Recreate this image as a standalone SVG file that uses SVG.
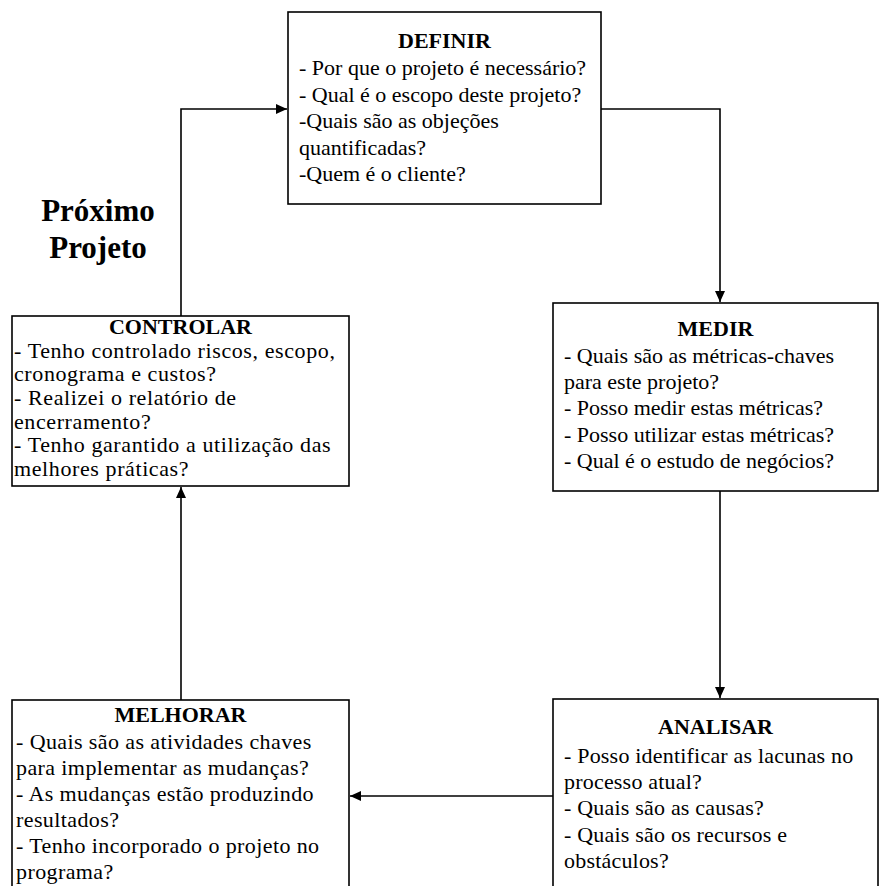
<svg xmlns="http://www.w3.org/2000/svg" width="880" height="886" viewBox="0 0 880 886">
<style>
.box{fill:#fff;stroke:#000;stroke-width:1.6}
.c{fill:none;stroke:#000;stroke-width:1.6}
</style>
<defs>
<marker id="ah" markerUnits="userSpaceOnUse" markerWidth="12" markerHeight="10" refX="11" refY="5" orient="auto">
<path d="M0,0 L11,5 L0,10 z" fill="#000"/>
</marker>
</defs>
<rect width="880" height="886" fill="#fff"/>
<g id="connectors">
<path class="c" d="M181,316 V109 H287" marker-end="url(#ah)"/>
<path class="c" d="M601,109 H720 V302" marker-end="url(#ah)"/>
<path class="c" d="M720,491 V698" marker-end="url(#ah)"/>
<path class="c" d="M553,796 H350" marker-end="url(#ah)"/>
<path class="c" d="M181,700 V487" marker-end="url(#ah)"/>
</g>
<g id="label-proximo">
<text x="98" y="221" font-family="Liberation Serif" font-size="31" font-weight="bold" text-anchor="middle">Próximo</text>
<text x="98" y="258" font-family="Liberation Serif" font-size="31" font-weight="bold" text-anchor="middle">Projeto</text>
</g>
<g id="definir">
<rect class="box" x="288" y="12" width="313" height="192"/>
<text x="444.5" y="48" font-family="Liberation Serif" font-size="22" font-weight="bold" text-anchor="middle">DEFINIR</text>
<text x="299" y="75" font-family="Liberation Serif" font-size="22">- Por que o projeto é necessário?</text>
<text x="299" y="101.5" font-family="Liberation Serif" font-size="22">- Qual é o escopo deste projeto?</text>
<text x="299" y="128" font-family="Liberation Serif" font-size="22">-Quais são as objeções</text>
<text x="299" y="154.5" font-family="Liberation Serif" font-size="22">quantificadas?</text>
<text x="299" y="181" font-family="Liberation Serif" font-size="22">-Quem é o cliente?</text>
</g>
<g id="medir">
<rect class="box" x="553" y="303" width="325" height="188"/>
<text x="715.5" y="336" font-family="Liberation Serif" font-size="22" font-weight="bold" text-anchor="middle">MEDIR</text>
<text x="564" y="363" font-family="Liberation Serif" font-size="22">- Quais são as métricas-chaves</text>
<text x="564" y="389" font-family="Liberation Serif" font-size="22">para este projeto?</text>
<text x="564" y="415" font-family="Liberation Serif" font-size="22">- Posso medir estas métricas?</text>
<text x="564" y="441.5" font-family="Liberation Serif" font-size="22">- Posso utilizar estas métricas?</text>
<text x="564" y="468" font-family="Liberation Serif" font-size="22">- Qual é o estudo de negócios?</text>
</g>
<g id="analisar">
<rect class="box" x="553" y="699" width="325" height="200"/>
<text x="715.5" y="734" font-family="Liberation Serif" font-size="22" font-weight="bold" text-anchor="middle">ANALISAR</text>
<text x="564" y="763" font-family="Liberation Serif" font-size="22" letter-spacing="0.2">- Posso identificar as lacunas no</text>
<text x="564" y="789" font-family="Liberation Serif" font-size="22" letter-spacing="0.2">processo atual?</text>
<text x="564" y="815" font-family="Liberation Serif" font-size="22" letter-spacing="0.2">- Quais são as causas?</text>
<text x="564" y="842" font-family="Liberation Serif" font-size="22" letter-spacing="0.2">- Quais são os recursos e</text>
<text x="564" y="868" font-family="Liberation Serif" font-size="22" letter-spacing="0.2">obstáculos?</text>
</g>
<g id="melhorar">
<rect class="box" x="12" y="700" width="337" height="200"/>
<text x="180.5" y="722" font-family="Liberation Serif" font-size="22" font-weight="bold" text-anchor="middle">MELHORAR</text>
<text x="16" y="749" font-family="Liberation Serif" font-size="22" letter-spacing="0.4">- Quais são as atividades chaves</text>
<text x="16" y="775" font-family="Liberation Serif" font-size="22" letter-spacing="0.4">para implementar as mudanças?</text>
<text x="16" y="801" font-family="Liberation Serif" font-size="22" letter-spacing="0.4">- As mudanças estão produzindo</text>
<text x="16" y="827" font-family="Liberation Serif" font-size="22" letter-spacing="0.4">resultados?</text>
<text x="16" y="853" font-family="Liberation Serif" font-size="22" letter-spacing="0.4">- Tenho incorporado o projeto no</text>
<text x="16" y="879" font-family="Liberation Serif" font-size="22" letter-spacing="0.4">programa?</text>
</g>
<g id="controlar">
<rect class="box" x="12" y="316" width="337" height="170"/>
<text x="180.5" y="334" font-family="Liberation Serif" font-size="22" font-weight="bold" text-anchor="middle">CONTROLAR</text>
<text x="14" y="357.5" font-family="Liberation Serif" font-size="22" letter-spacing="0.6">- Tenho controlado riscos, escopo,</text>
<text x="14" y="381" font-family="Liberation Serif" font-size="22" letter-spacing="0.6">cronograma e custos?</text>
<text x="14" y="405" font-family="Liberation Serif" font-size="22" letter-spacing="0.6">- Realizei o relatório de</text>
<text x="14" y="428.5" font-family="Liberation Serif" font-size="22" letter-spacing="0.6">encerramento?</text>
<text x="14" y="452" font-family="Liberation Serif" font-size="22" letter-spacing="0.6">- Tenho garantido a utilização das</text>
<text x="14" y="475.5" font-family="Liberation Serif" font-size="22" letter-spacing="0.6">melhores práticas?</text>
</g>
</svg>
